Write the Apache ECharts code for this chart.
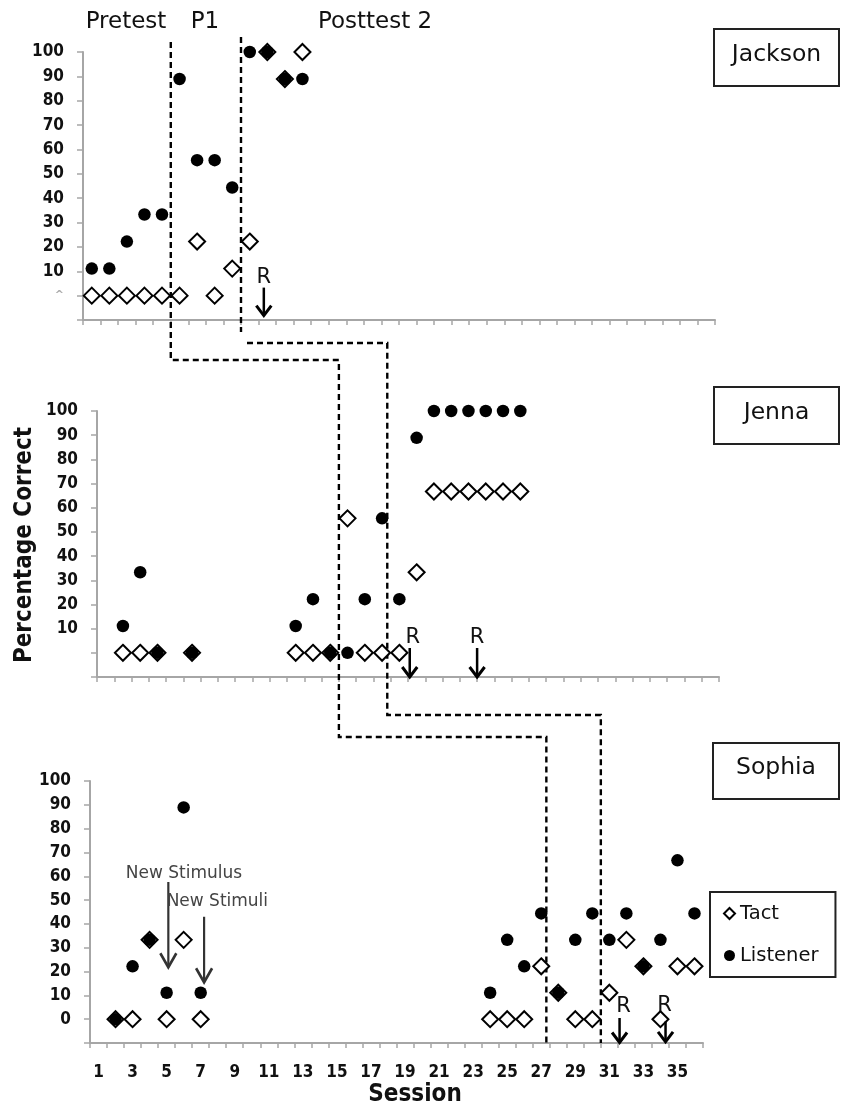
<!DOCTYPE html>
<html><head><meta charset="utf-8">
<script src="https://cdn.jsdelivr.net/npm/echarts@6/dist/echarts.min.js"></script>
<style>html,body{margin:0;padding:0;background:#fff}#c{width:841px;height:1109px}</style>
</head><body><div id="c"></div>
<script>
// ---------- DATA ----------
const sessions = ['1','2','3','4','5','6','7','8','9','10','11','12','13','14','15','16','17','18',
  '19','20','21','22','23','24','25','26','27','28','29','30','31','32','33','34','35','36'];
const participants = ['Jackson', 'Jenna', 'Sophia'];
const N = null;
// Tact (open diamonds), index = session-1
const jacksonTact = [0,0,0,0,0,0,22.2,0,11.1,22.2,100,88.9,100];
const jacksonListener = [11.1,11.1,22.2,33.3,33.3,88.9,55.6,55.6,44.4,100,100,88.9,88.9];
const jennaTact = [N,0,0,0,N,0,N,N,N,N,N,0,0,0,55.6,0,0,0,33.3,66.7,66.7,66.7,66.7,66.7,66.7];
const jennaListener = [N,11.1,33.3,0,N,0,N,N,N,N,N,11.1,22.2,0,0,22.2,55.6,22.2,88.9,100,100,100,100,100,100];
const sophiaTact = [N,0,0,33.3,0,33.3,0,N,N,N,N,N,N,N,N,N,N,N,N,N,N,N,N,
  0,0,0,22.2,11.1,0,0,11.1,33.3,22.2,0,22.2,22.2];
const sophiaListener = [N,0,22.2,33.3,11.1,88.9,11.1,N,N,N,N,N,N,N,N,N,N,N,N,N,N,N,N,
  11.1,33.3,22.2,44.4,11.1,33.3,44.4,33.3,44.4,22.2,33.3,66.7,44.4];
const tactData = [jacksonTact, jennaTact, sophiaTact];
const listenerData = [jacksonListener, jennaListener, sophiaListener];
// phase-change lines (session positions) per panel
const phaseLineA = [5.5, 14.5, 27.3];
const phaseLineB = [9.5, 17.3, 30.5];
const phaseLabels = ['Pretest', 'P1', 'Posttest 2'];
// "R" arrows: panel, session position, arrow top value, arrow tip value, label value
const rArrows = [
  {k:0, s:10.8, top:3.3, tip:-8.2, lab:7.4, dx:0},
  {k:1, s:18.6, top:2,   tip:-10,  lab:6.5, dx:3},
  {k:1, s:22.5, top:2,   tip:-10,  lab:6.5, dx:0},
  {k:2, s:31.6, top:0.5, tip:-9.8, lab:5.2, dx:4},
  {k:2, s:34.3, top:-1,  tip:-9.5, lab:5.6, dx:-1}
];
const stimArrows = [
  {text:'New Stimulus', s:5.1, top:57.6, tip:21.8, ts:2.6, tv:61},
  {text:'New Stimuli',  s:7.2, top:43,   tip:15.5, ts:5.0, tv:49.2}
];

// ---------- LAYOUT ----------
const F = 'DejaVu Sans';
const FC = 'DejaVu Sans Condensed';
const grids = [
  {left:83, top:52, width:632, height:268},
  {left:97, top:411, width:622, height:266},
  {left:90, top:781, width:613, height:262}
];
const axisGrey = '#a6a6a6';
const chart = echarts.init(document.getElementById('c'), null, {renderer:'canvas'});

function pairs(arr){
  const out = [];
  arr.forEach((v,i)=>{ if(v !== null && v !== undefined) out.push([sessions[i], v]); });
  return out;
}
const yFormatters = [
  v => v < 0 ? '' : (v === 0 ? '{c|^}' : String(v)),
  v => v <= 0 ? '' : String(v),
  v => v < 0 ? '' : String(v)
];

const xAxis = [], yAxis = [], series = [];
grids.forEach((g,k)=>{
  xAxis.push({
    type:'category', gridIndex:k, data:sessions, boundaryGap:true,
    axisLine:{onZero:false, lineStyle:{color:axisGrey, width:2}},
    axisTick:{show:true, interval:0, length:5, lineStyle:{color:axisGrey, width:1.5}},
    axisLabel: k === 2 ? {show:true, interval:1, margin:21, fontFamily:FC, fontWeight:'bold', fontSize:17, color:'#111'} : {show:false},
    splitLine:{show:false}
  });
  yAxis.push({
    type:'value', gridIndex:k, min:-10, max:100, interval:10,
    axisLine:{show:true, lineStyle:{color:axisGrey, width:2}},
    axisTick:{show:true, length:6, lineStyle:{color:axisGrey, width:1.5}},
    splitLine:{show:false},
    axisLabel:{margin:19, fontFamily:FC, fontWeight:'bold', fontSize:17, color:'#111',
      formatter:yFormatters[k], rich:{c:{fontSize:11, color:'#aaa', fontFamily:F}}}
  });
  series.push({
    type:'scatter', name:'Tact', xAxisIndex:k, yAxisIndex:k, symbol:'diamond', symbolSize:16,
    itemStyle:{color:'#fff', borderColor:'#000', borderWidth:2, opacity:1},
    data:pairs(tactData[k]), z:2, silent:true
  });
  series.push({
    type:'scatter', name:'Listener', xAxisIndex:k, yAxisIndex:k, symbol:'circle', symbolSize:12.5,
    itemStyle:{color:'#000', opacity:1},
    data:pairs(listenerData[k]), z:3, silent:true
  });
});
// hidden value axes sharing each grid, for annotation positions (session units)
grids.forEach((g,k)=>{
  xAxis.push({type:'value', gridIndex:k, min:0.5, max:36.5, show:false,
    axisLine:{onZero:false}, splitLine:{show:false}});
});

chart.setOption({
  animation:false,
  backgroundColor:'#fff',
  grid:grids,
  xAxis, yAxis, series,
  legend:{
    data:['Tact','Listener'], orient:'vertical', left:710, top:892,
    itemWidth:11, itemHeight:11, itemGap:21, padding:[11,17,11,13],
    borderColor:'#222', borderWidth:2, selectedMode:false,
    textStyle:{fontFamily:F, fontSize:19.5, color:'#111', lineHeight:21}
  }
});

// ---------- ANNOTATIONS ----------
const px = (k, s) => chart.convertToPixel({xAxisIndex:3+k}, s);
const py = (k, v) => chart.convertToPixel({yAxisIndex:k}, v);
const G = [];
const dash = {stroke:'#000', lineWidth:2.4, lineDash:[6,4], fill:null};

// phase change line A
const ax = phaseLineA.map((s,k)=>px(k,s));
G.push({type:'polyline', shape:{points:[[ax[0],42],[ax[0],360],[ax[1],360],[ax[1],737],[ax[2],737],[ax[2],py(2,-10)]]}, style:dash, z:1});
// phase change line B
const bx = phaseLineB.map((s,k)=>px(k,s));
G.push({type:'polyline', shape:{points:[[bx[0],37],[bx[0],332]]}, style:dash, z:1});
G.push({type:'polyline', shape:{points:[[bx[0]+6,343],[bx[1],343],[bx[1],715],[bx[2],715],[bx[2],py(2,-10)]]}, style:dash, z:1});

// phase labels
const phaseX = [126, 205, 375];
phaseLabels.forEach((t,i)=>{
  G.push({type:'text', x:phaseX[i], y:22, style:{text:t, fontFamily:F, fontSize:23, fill:'#111', align:'center', verticalAlign:'middle'}, z:10});
});

// R arrows
rArrows.forEach(a=>{
  const x = px(a.k, a.s), y0 = py(a.k, a.top), y1 = py(a.k, a.tip);
  G.push({type:'line', shape:{x1:x, y1:y0, x2:x, y2:y1}, style:{stroke:'#000', lineWidth:2.5}, z:10});
  G.push({type:'polyline', shape:{points:[[x-7.5,y1-10],[x,y1],[x+7.5,y1-10]]}, style:{stroke:'#000', lineWidth:3, fill:null}, z:10});
  G.push({type:'text', x:x+a.dx, y:py(a.k,a.lab), style:{text:'R', fontFamily:F, fontSize:21, fill:'#111', align:'center', verticalAlign:'middle'}, z:10});
});

// New stimulus arrows
stimArrows.forEach(a=>{
  const x = px(2, a.s), y0 = py(2, a.top), y1 = py(2, a.tip);
  G.push({type:'line', shape:{x1:x, y1:y0, x2:x, y2:y1}, style:{stroke:'#333', lineWidth:2.2}, z:10});
  G.push({type:'polyline', shape:{points:[[x-8,y1-14],[x,y1],[x+8,y1-14]]}, style:{stroke:'#333', lineWidth:2.6, fill:null}, z:10});
  G.push({type:'text', x:px(2,a.ts), y:py(2,a.tv), style:{text:a.text, fontFamily:F, fontSize:17, fill:'#444', align:'left', verticalAlign:'middle'}, z:10});
});

// participant name boxes
const boxes = [[714,29,125,57],[714,387,125,57],[713,743,126,56]];
participants.forEach((n,i)=>{
  const [x,y,w,h] = boxes[i];
  G.push({type:'rect', shape:{x, y, width:w, height:h}, style:{stroke:'#222', lineWidth:2, fill:'#fff'}, z:5});
  G.push({type:'text', x:x+w/2, y:y+h/2-3, style:{text:n, fontFamily:F, fontSize:23.5, fill:'#111', align:'center', verticalAlign:'middle'}, z:6});
});

// axis titles
G.push({type:'text', x:25, y:545, rotation:Math.PI/2, style:{text:'Percentage Correct', fontFamily:FC, fontWeight:'bold', fontSize:24, fill:'#111', align:'center', verticalAlign:'middle'}, z:10});
G.push({type:'text', x:415, y:1095, style:{text:'Session', fontFamily:FC, fontWeight:'bold', fontSize:24, fill:'#111', align:'center', verticalAlign:'middle'}, z:10});

chart.setOption({graphic:G});
</script>
</body></html>
